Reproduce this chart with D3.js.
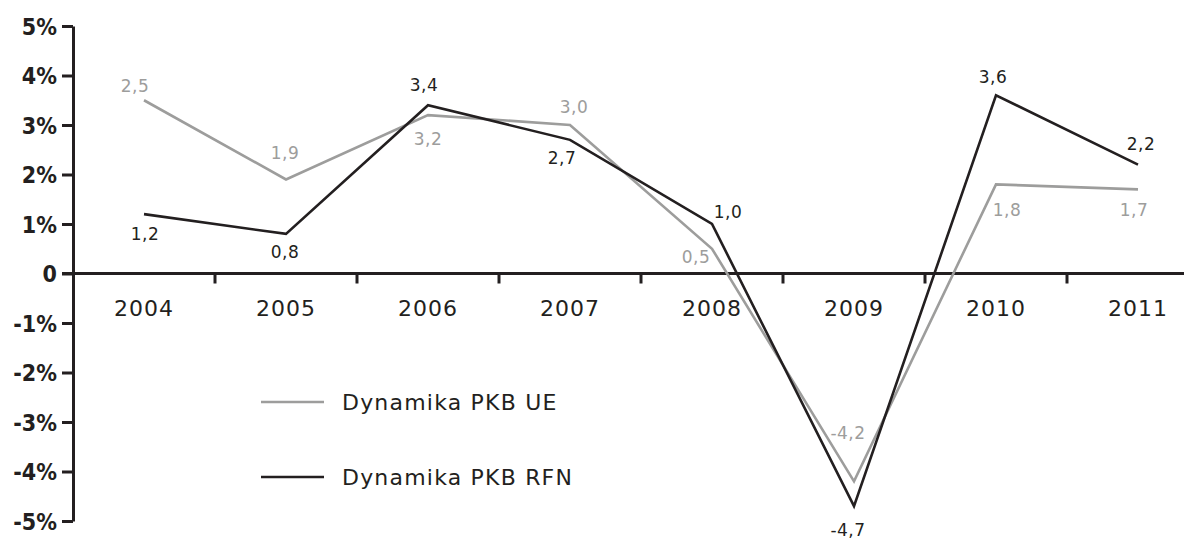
<!DOCTYPE html>
<html>
<head>
<meta charset="utf-8">
<script src="https://cdn.jsdelivr.net/npm/d3@7"></script>
<style>
  body { margin: 0; background: #fff; }
  svg { display: block; }
  text { font-family: "DejaVu Sans", sans-serif; fill: #231f20; }
</style>
</head>
<body>
<svg id="chart" width="1184" height="539"></svg>
<script>
// data
const years = ['2004', '2005', '2006', '2007', '2008', '2009', '2010', '2011'];
const ueValues = [3.5, 1.9, 3.2, 3.0, 0.5, -4.2, 1.8, 1.7];
const rfnValues = [1.2, 0.8, 3.4, 2.7, 1.0, -4.7, 3.6, 2.2];
// labels as printed (the first grey one says 2,5 although the point sits at 3,5)
const ueLabels = ['2,5', '1,9', '3,2', '3,0', '0,5', '-4,2', '1,8', '1,7'];
const rfnLabels = ['1,2', '0,8', '3,4', '2,7', '1,0', '-4,7', '3,6', '2,2'];
const yTicks = [-5, -4, -3, -2, -1, 0, 1, 2, 3, 4, 5];
const legendNames = ['Dynamika PKB UE', 'Dynamika PKB RFN'];

const grey = '#9d9d9c';
const dark = '#231f20';

// where each value label sits relative to its point [dx, dy of baseline]
const ueLabelOffsets = [[-9, -8], [-1, -20], [0, 30], [4, -12], [-16, 14], [-6, -42], [11, 32], [-4, 27]];
const rfnLabelOffsets = [[1, 26], [-1, 24], [-4, -14], [-8, 24], [16, -6], [-6, 30], [-3, -12], [3, -15]];

const svg = d3.select('#chart');
const W = 1184;

const x = d3.scaleBand().domain(years).range([73, 73 + 8 * 142]).padding(0);
const y = d3.scaleLinear().domain([-5, 5]).range([521, 26]);
const cx = (d, i) => x(years[i]) + x.bandwidth() / 2;

// y axis
const yAxis = d3.axisLeft(y)
  .tickValues(yTicks)
  .tickSize(11)
  .tickSizeOuter(0)
  .tickPadding(5)
  .tickFormat((d) => (d === 0 ? '0' : d + '%'));

const gy = svg.append('g').attr('transform', 'translate(73,0)').call(yAxis);
gy.select('.domain').attr('stroke', dark).attr('stroke-width', 3);
gy.selectAll('.tick line').attr('stroke', dark).attr('stroke-width', 3);
gy.selectAll('.tick text')
  .attr('fill', dark)
  .attr('dy', '0.36em')
  .style('font-family', '"DejaVu Sans Condensed", "DejaVu Sans", sans-serif')
  .style('font-weight', 'bold')
  .style('font-size', '23px');

// x axis along zero
const y0 = y(0);
svg.append('line')
  .attr('x1', 62).attr('x2', W)
  .attr('y1', y0).attr('y2', y0)
  .attr('stroke', dark).attr('stroke-width', 3);

svg.selectAll('.xtick')
  .data(years.slice(1))
  .join('line')
  .attr('class', 'xtick')
  .attr('x1', (d) => x(d)).attr('x2', (d) => x(d))
  .attr('y1', y0).attr('y2', y0 + 10)
  .attr('stroke', dark).attr('stroke-width', 3);

svg.selectAll('.xlabel')
  .data(years)
  .join('text')
  .attr('class', 'xlabel')
  .attr('x', (d) => x(d) + x.bandwidth() / 2)
  .attr('y', y0 + 42)
  .attr('text-anchor', 'middle')
  .style('font-size', '22px')
  .style('letter-spacing', '1px')
  .text((d) => d);

// lines
const line = d3.line().x(cx).y((d) => y(d));

function drawSeries(values, labels, offsets, color) {
  svg.append('path')
    .datum(values)
    .attr('fill', 'none')
    .attr('stroke', color)
    .attr('stroke-width', 2.6)
    .attr('stroke-linejoin', 'miter')
    .attr('d', line);

  svg.append('g')
    .selectAll('text')
    .data(values)
    .join('text')
    .attr('x', (d, i) => cx(d, i) + offsets[i][0])
    .attr('y', (d, i) => y(d) + offsets[i][1])
    .attr('text-anchor', 'middle')
    .style('font-size', '17px')
    .style('letter-spacing', '0.5px')
    .style('fill', color)
    .text((d, i) => labels[i]);
}

drawSeries(ueValues, ueLabels, ueLabelOffsets, grey);
drawSeries(rfnValues, rfnLabels, rfnLabelOffsets, dark);

// legend
const legend = svg.append('g').attr('transform', 'translate(261,402)');
const items = legend.selectAll('g')
  .data(legendNames)
  .join('g')
  .attr('transform', (d, i) => `translate(0,${i * 75})`);

items.append('line')
  .attr('x1', 0).attr('x2', 63)
  .attr('y1', 0).attr('y2', 0)
  .attr('stroke', (d, i) => (i === 0 ? grey : dark))
  .attr('stroke-width', 2.6);

items.append('text')
  .attr('x', 81)
  .attr('y', 8)
  .style('font-size', '22px')
  .style('letter-spacing', '1.2px')
  .text((d) => d);
</script>
</body>
</html>
